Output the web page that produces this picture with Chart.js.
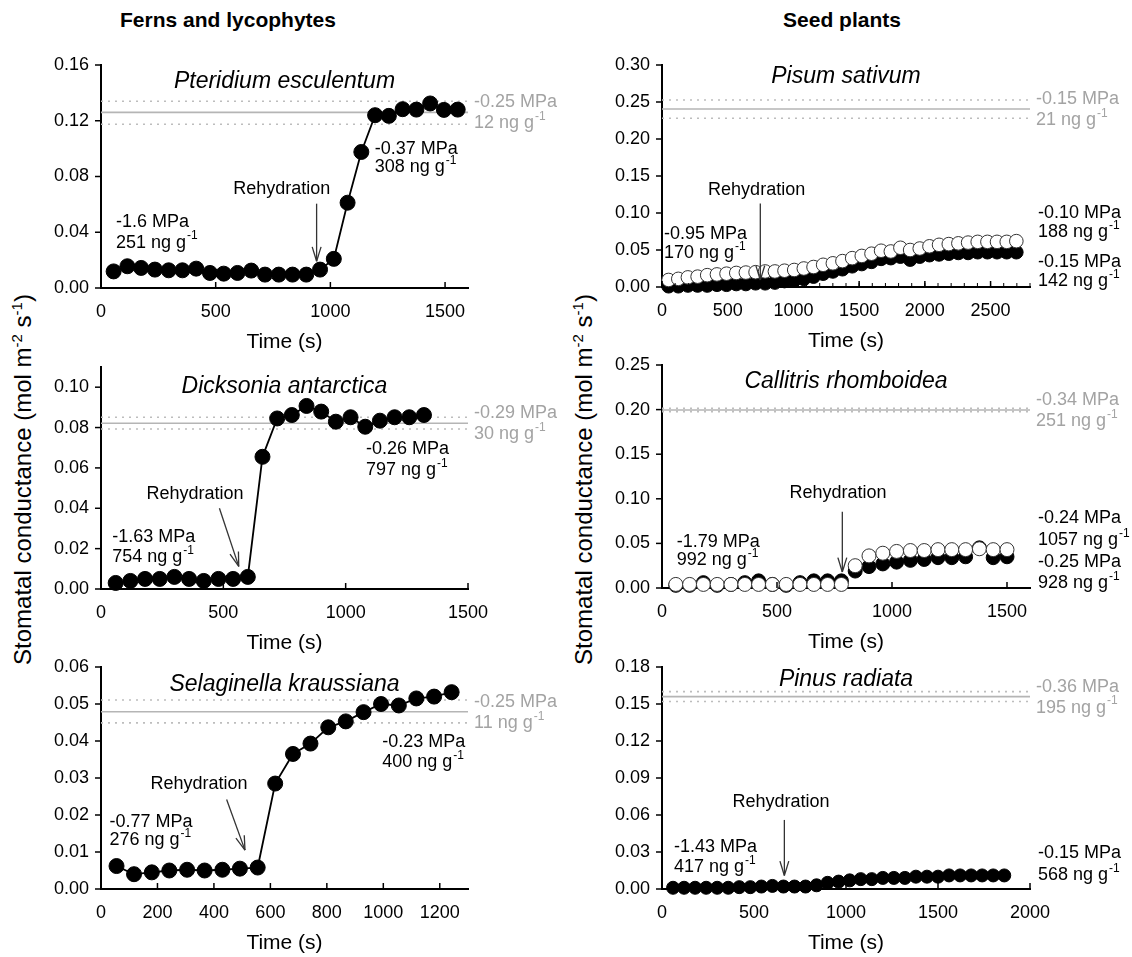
<!DOCTYPE html>
<html>
<head>
<meta charset="utf-8">
<script src="https://cdn.jsdelivr.net/npm/chart.js@4.4.1/dist/chart.umd.min.js"></script>
<style>
  body { margin: 0; background: #fff; width: 1132px; height: 957px; position: relative; overflow: hidden;
         font-family: "Liberation Sans", Arial, sans-serif; }
  canvas { position: absolute; }
  .head { position: absolute; top: 8px; font-weight: bold; font-size: 21px; width: 300px; text-align: center; }
  .ytitle { position: absolute; width: 440px; text-align: center; font-size: 24px; transform: rotate(-90deg); white-space: nowrap; }
  .ytitle sup { font-size: 15px; }
</style>
</head>
<body>
<div class="head" style="left:78px">Ferns and lycophytes</div>
<div class="head" style="left:692px">Seed plants</div>
<div class="ytitle" style="left:-198px; top:465px">Stomatal conductance (mol m<sup>-2</sup> s<sup>-1</sup>)</div>
<div class="ytitle" style="left:363px; top:465px">Stomatal conductance (mol m<sup>-2</sup> s<sup>-1</sup>)</div>

<script>
// Pteridium esculentum
const pteridiumTime = [55, 115, 175, 235, 295, 355, 415, 475, 535, 595, 655, 715, 775, 835, 895, 955, 1015, 1075, 1135, 1195, 1255, 1315, 1375, 1435, 1495, 1555];
const pteridiumGs = [0.0119, 0.0156, 0.0144, 0.0132, 0.0127, 0.0127, 0.0139, 0.0108, 0.0103, 0.0108, 0.0125, 0.0096, 0.0096,
  0.0096, 0.0096, 0.0132, 0.0209, 0.0612, 0.0976, 0.124, 0.1235, 0.1283, 0.128, 0.1324, 0.1278, 0.128];
const pteridiumRef = [0.134, 0.126, 0.1175];

// Dicksonia antarctica
const dicksoniaTime = [60, 120, 180, 240, 300, 360, 420, 480, 540, 600, 660, 720, 780, 840, 900, 960, 1020, 1080, 1140, 1200, 1260, 1320];
const dicksoniaGs = [0.003, 0.004, 0.005, 0.005, 0.006, 0.005, 0.004, 0.005, 0.005, 0.006, 0.0655, 0.0845, 0.0862, 0.0907,
  0.0879, 0.0829, 0.0851, 0.0804, 0.0834, 0.0851, 0.0851, 0.0862];
const dicksoniaRef = [0.0851, 0.0821, 0.0793];

// Selaginella kraussiana
const selaginellaTime = [55, 117, 180, 242, 305, 367, 430, 492, 555, 617, 680, 742, 805, 867, 930, 992, 1055, 1117, 1180, 1242];
const selaginellaGs = [0.0062, 0.004, 0.0045, 0.005, 0.0052, 0.005, 0.0052, 0.0055, 0.0058, 0.0285, 0.0365, 0.0393, 0.0437,
  0.0453, 0.0478, 0.05, 0.0496, 0.0515, 0.052, 0.0532];
const selaginellaRef = [0.0511, 0.0479, 0.0449];

// Pisum sativum (open and closed symbols)
const pisumTime = [50, 124, 197, 271, 344, 418, 491, 565, 638, 712, 785, 859, 932, 1006, 1079, 1153, 1226, 1300, 1373, 1447,
  1520, 1594, 1667, 1741, 1814, 1888, 1961, 2035, 2108, 2182, 2255, 2329, 2402, 2476, 2549, 2623, 2696];
const pisumOpen = [0.0095, 0.011, 0.013, 0.014, 0.016, 0.017, 0.018, 0.019, 0.0195, 0.02, 0.021, 0.021, 0.022, 0.023, 0.025,
  0.027, 0.03, 0.032, 0.035, 0.039, 0.042, 0.045, 0.049, 0.048, 0.053, 0.05, 0.052, 0.055, 0.057, 0.058, 0.059, 0.06, 0.061,
  0.061, 0.061, 0.061, 0.062];
const pisumClosed = [0.001, 0.001, 0.002, 0.002, 0.002, 0.003, 0.003, 0.004, 0.004, 0.005, 0.005, 0.006, 0.008, 0.009, 0.011,
  0.014, 0.018, 0.021, 0.024, 0.028, 0.031, 0.034, 0.038, 0.039, 0.041, 0.037, 0.041, 0.043, 0.044, 0.045, 0.046, 0.046, 0.047,
  0.047, 0.047, 0.047, 0.047];
const pisumRef = [0.2527, 0.2405, 0.228];

// Callitris rhomboidea
const callitrisTime = [60, 120, 180, 240, 300, 360, 420, 480, 540, 600, 660, 720, 780, 840, 900, 960, 1020, 1080, 1140, 1200,
  1260, 1320, 1380, 1440, 1500];
const callitrisOpen = [0.004, 0.004, 0.004, 0.004, 0.004, 0.004, 0.004, 0.004, 0.004, 0.004, 0.004, 0.004, 0.004, 0.025, 0.036,
  0.039, 0.041, 0.042, 0.042, 0.043, 0.043, 0.043, 0.044, 0.043, 0.043];
const callitrisClosed = [0.003, 0.003, 0.006, 0.003, 0.004, 0.006, 0.008, 0.004, 0.003, 0.006, 0.008, 0.008, 0.008, 0.019,
  0.024, 0.027, 0.029, 0.031, 0.032, 0.034, 0.034, 0.035, 0.045, 0.034, 0.035];
const callitrisRef = [0.2015, 0.1996, 0.1977];

// Pinus radiata
const pinusTime = [60, 120, 180, 240, 300, 360, 420, 480, 540, 600, 660, 720, 780, 840, 900, 960, 1020, 1080, 1140, 1200, 1260,
  1320, 1380, 1440, 1500, 1560, 1620, 1680, 1740, 1800, 1860];
const pinusGs = [0.001, 0.001, 0.001, 0.001, 0.001, 0.001, 0.0015, 0.0015, 0.002, 0.0025, 0.002, 0.002, 0.002, 0.003, 0.005,
  0.006, 0.007, 0.008, 0.008, 0.009, 0.009, 0.009, 0.01, 0.01, 0.01, 0.011, 0.011, 0.011, 0.011, 0.011, 0.011];
const pinusRef = [0.16, 0.156, 0.152];

// axis ticks
const ticks500 = [0, 500, 1000, 1500];
const ticks200 = [0, 200, 400, 600, 800, 1000, 1200];
const ticksPisum = [0, 500, 1000, 1500, 2000, 2500];
const ticksPinus = [0, 500, 1000, 1500, 2000];

const FONT = '"Liberation Sans", Arial, sans-serif';

function pts(xs, ys) { return xs.map((t, i) => ({ x: t, y: ys[i] })); }

const panels = [
  { title: 'Pteridium esculentum', box: [40, 40, 520, 315], plotTop: 65, rightPad: 92, titleDy: 17,
    xMax: 1600, xTicks: ticks500, yMax: 0.16, yTicks: [0, 0.04, 0.08, 0.12, 0.16],
    series: [{ x: pteridiumTime, y: pteridiumGs, open: false }], line: true, r: 7.5,
    ref: pteridiumRef, refText: ['-0.25 MPa', '12 ng g^-1'],
    notes: [{ t: 65, v: 0.047, text: '-1.6 MPa' }, { t: 65, v: 0.0326, text: '251 ng g^-1' },
            { t: 1193, v: 0.1, text: '-0.37 MPa' }, { t: 1193, v: 0.0866, text: '308 ng g^-1' },
            { t: 788, v: 0.0708, text: 'Rehydration', align: 'center' }],
    arrow: [940, 0.0605, 940, 0.0192], side: [] },
  { title: 'Dicksonia antarctica', box: [40, 340, 520, 316], plotTop: 367, rightPad: 92, titleDy: 20,
    xMax: 1500, xTicks: ticks500, yMax: 0.11, yTicks: [0, 0.02, 0.04, 0.06, 0.08, 0.1],
    series: [{ x: dicksoniaTime, y: dicksoniaGs, open: false }], line: true, r: 7.5,
    ref: dicksoniaRef, refText: ['-0.29 MPa', '30 ng g^-1'],
    notes: [{ t: 46, v: 0.0259, text: '-1.63 MPa' }, { t: 46, v: 0.016, text: '754 ng g^-1' },
            { t: 1083, v: 0.0692, text: '-0.26 MPa' }, { t: 1083, v: 0.059, text: '797 ng g^-1' },
            { t: 384, v: 0.047, text: 'Rehydration', align: 'center' }],
    arrow: [484, 0.04, 563, 0.0112], side: [] },
  { title: 'Selaginella kraussiana', box: [40, 640, 520, 316], plotTop: 667, rightPad: 92, titleDy: 18,
    xMax: 1300, xTicks: ticks200, yMax: 0.06, yTicks: [0, 0.01, 0.02, 0.03, 0.04, 0.05, 0.06],
    series: [{ x: selaginellaTime, y: selaginellaGs, open: false }], line: true, r: 7.5,
    ref: selaginellaRef, refText: ['-0.25 MPa', '11 ng g^-1'],
    notes: [{ t: 30, v: 0.0182, text: '-0.77 MPa' }, { t: 30, v: 0.0132, text: '276 ng g^-1' },
            { t: 996, v: 0.0398, text: '-0.23 MPa' }, { t: 996, v: 0.0344, text: '400 ng g^-1' },
            { t: 347, v: 0.0283, text: 'Rehydration', align: 'center' }],
    arrow: [445, 0.0242, 510, 0.0105], side: [] },
  { title: 'Pisum sativum', box: [600, 40, 532, 314], plotTop: 65, rightPad: 102, titleDy: 12,
    xMax: 2800, xTicks: ticksPisum, minorStep: 100, yMax: 0.3, yTicks: [0, 0.05, 0.1, 0.15, 0.2, 0.25, 0.3],
    series: [{ x: pisumTime, y: pisumClosed, open: false }, { x: pisumTime, y: pisumOpen, open: true }], line: false, r: 6.8,
    ref: pisumRef, refText: ['-0.15 MPa', '21 ng g^-1'],
    notes: [{ t: 15, v: 0.0716, text: '-0.95 MPa' }, { t: 15, v: 0.0455, text: '170 ng g^-1' },
            { t: 720, v: 0.131, text: 'Rehydration', align: 'center' }],
    arrow: [748, 0.113, 748, 0.0095],
    side: [{ v: 0.1, text: '-0.10 MPa' }, { v: 0.0743, text: '188 ng g^-1' }, { v: 0.0338, text: '-0.15 MPa' }, { v: 0.0081, text: '142 ng g^-1' }] },
  { title: 'Callitris rhomboidea', box: [600, 340, 532, 315], plotTop: 365, rightPad: 102, titleDy: 17,
    xMax: 1600, xTicks: ticks500, yMax: 0.25, yTicks: [0, 0.05, 0.1, 0.15, 0.2, 0.25],
    series: [{ x: callitrisTime, y: callitrisClosed, open: false }, { x: callitrisTime, y: callitrisOpen, open: true }], line: false, r: 7,
    ref: callitrisRef, refText: ['-0.34 MPa', '251 ng g^-1'],
    notes: [{ t: 64, v: 0.0519, text: '-1.79 MPa' }, { t: 64, v: 0.0314, text: '992 ng g^-1' },
            { t: 765, v: 0.106, text: 'Rehydration', align: 'center' }],
    arrow: [784, 0.0855, 784, 0.018],
    side: [{ v: 0.0781, text: '-0.24 MPa' }, { v: 0.0538, text: '1057 ng g^-1' }, { v: 0.0295, text: '-0.25 MPa' }, { v: 0.0053, text: '928 ng g^-1' }] },
  { title: 'Pinus radiata', box: [600, 640, 532, 316], plotTop: 667, rightPad: 102, titleDy: 13,
    xMax: 2000, xTicks: ticksPinus, yMax: 0.18, yTicks: [0, 0.03, 0.06, 0.09, 0.12, 0.15, 0.18],
    series: [{ x: pinusTime, y: pinusGs, open: false }], line: false, r: 6.5,
    ref: pinusRef, refText: ['-0.36 MPa', '195 ng g^-1'],
    notes: [{ t: 65, v: 0.0343, text: '-1.43 MPa' }, { t: 65, v: 0.0176, text: '417 ng g^-1' },
            { t: 647, v: 0.0708, text: 'Rehydration', align: 'center' }],
    arrow: [665, 0.056, 665, 0.011],
    side: [{ v: 0.029, text: '-0.15 MPa' }, { v: 0.0114, text: '568 ng g^-1' }] }
];

// text with an optional superscript after '^'
function drawRich(ctx, str, x, y, align, size) {
  const [base, sup] = str.split('^');
  ctx.font = size + 'px ' + FONT;
  const bw = ctx.measureText(base).width;
  const supSize = Math.round(size * 0.65);
  ctx.font = supSize + 'px ' + FONT;
  const sw = sup ? ctx.measureText(sup).width + 1 : 0;
  let x0 = x;
  if (align === 'center') x0 = x - (bw + sw) / 2;
  if (align === 'right') x0 = x - bw - sw;
  ctx.textAlign = 'left';
  ctx.textBaseline = 'middle';
  ctx.font = size + 'px ' + FONT;
  ctx.fillText(base, x0, y);
  if (sup) {
    ctx.font = supSize + 'px ' + FONT;
    ctx.fillText(sup, x0 + bw + 1, y - size * 0.36);
  }
}

function seg(ctx, x1, y1, x2, y2) {
  ctx.beginPath(); ctx.moveTo(x1, y1); ctx.lineTo(x2, y2); ctx.stroke();
}

function decor(p) {
  return {
    id: 'decor',
    afterDraw(chart) {
      const { ctx, chartArea: a } = chart;
      const x = chart.scales.x, y = chart.scales.y;
      ctx.save();
      // tick marks
      ctx.strokeStyle = '#000';
      ctx.lineWidth = 1.5;
      p.yTicks.forEach(v => { const py = y.getPixelForValue(v); seg(ctx, a.left - 6, py, a.left, py); });
      p.xTicks.forEach(v => { const px = x.getPixelForValue(v); seg(ctx, px, a.bottom, px, a.bottom - 6); });
      if (p.minorStep) {
        ctx.lineWidth = 1;
        for (let t = p.minorStep; t <= p.xMax; t += p.minorStep) {
          const px = x.getPixelForValue(t);
          seg(ctx, px, a.bottom, px, a.bottom - 4);
        }
      }
      // species name
      ctx.fillStyle = '#000';
      ctx.font = 'italic 23px ' + FONT;
      ctx.textAlign = 'center';
      ctx.textBaseline = 'middle';
      ctx.fillText(p.title, (a.left + a.right) / 2, a.top + p.titleDy);
      // reference labels
      const sy = y.getPixelForValue(p.ref[1]);
      ctx.fillStyle = '#a3a3a3';
      drawRich(ctx, p.refText[0], a.right + 6, sy - 10, 'left', 18);
      drawRich(ctx, p.refText[1], a.right + 6, sy + 11, 'left', 18);
      // annotations
      ctx.fillStyle = '#000';
      p.notes.forEach(n => drawRich(ctx, n.text, x.getPixelForValue(n.t), y.getPixelForValue(n.v), n.align || 'left', 18));
      p.side.forEach(n => drawRich(ctx, n.text, a.right + 8, y.getPixelForValue(n.v), 'left', 18));
      // rehydration arrow
      const [t1, v1, t2, v2] = p.arrow;
      const ax1 = x.getPixelForValue(t1), ay1 = y.getPixelForValue(v1);
      const ax2 = x.getPixelForValue(t2), ay2 = y.getPixelForValue(v2);
      ctx.strokeStyle = '#333';
      ctx.lineWidth = 1.3;
      seg(ctx, ax1, ay1, ax2, ay2);
      const ang = Math.atan2(ay2 - ay1, ax2 - ax1);
      [0.3, -0.3].forEach(d => {
        seg(ctx, ax2, ay2, ax2 - 15 * Math.cos(ang + d), ay2 - 15 * Math.sin(ang + d));
      });
      ctx.restore();
    }
  };
}

panels.forEach(p => {
  const [left, top, w, h] = p.box;
  const cv = document.createElement('canvas');
  cv.width = w; cv.height = h;
  cv.style.left = left + 'px'; cv.style.top = top + 'px';
  document.body.appendChild(cv);

  const datasets = [];
  p.series.forEach(s => {
    datasets.push({
      data: pts(s.x, s.y),
      showLine: p.line,
      borderColor: '#000',
      borderWidth: 1.8,
      pointRadius: p.r,
      pointBackgroundColor: s.open ? '#fff' : '#000',
      pointBorderColor: s.open ? '#333' : '#000',
      pointBorderWidth: 1,
      order: s.open ? 0 : 1,
      clip: false
    });
  });
  p.ref.forEach((v, i) => {
    datasets.push({
      data: [{ x: 0, y: v }, { x: p.xMax, y: v }],
      showLine: true,
      borderColor: i === 1 ? '#b5b5b5' : '#bdbdbd',
      borderWidth: 1.6,
      borderDash: i === 1 ? [] : [2, 5],
      pointRadius: 0,
      order: 3
    });
  });

  new Chart(cv, {
    type: 'scatter',
    data: { datasets },
    options: {
      responsive: false,
      animation: false,
      events: [],
      layout: { padding: { top: p.plotTop - top, right: p.rightPad, left: 0, bottom: 0 } },
      plugins: { legend: { display: false }, tooltip: { enabled: false } },
      scales: {
        x: {
          type: 'linear', min: 0, max: p.xMax,
          afterBuildTicks: s => { s.ticks = p.xTicks.map(v => ({ value: v })); },
          afterFit: s => { s.height = 67; },
          ticks: { color: '#000', font: { family: FONT, size: 18 }, padding: 13, maxRotation: 0, autoSkip: false,
                   callback: v => String(v) },
          grid: { display: false, drawTicks: false },
          border: { color: '#000', width: 2 },
          title: { display: true, text: 'Time (s)', color: '#000', font: { family: FONT, size: 21 }, padding: 0 }
        },
        y: {
          min: 0, max: p.yMax,
          afterBuildTicks: s => { s.ticks = p.yTicks.map(v => ({ value: v })); },
          afterFit: s => { s.width = left < 300 ? 61 : 62; },
          ticks: { color: '#000', font: { family: FONT, size: 18 }, padding: 12, callback: v => v.toFixed(2) },
          grid: { display: false, drawTicks: false },
          border: { color: '#000', width: 2 }
        }
      }
    },
    plugins: [decor(p)]
  });
});
</script>
</body>
</html>
